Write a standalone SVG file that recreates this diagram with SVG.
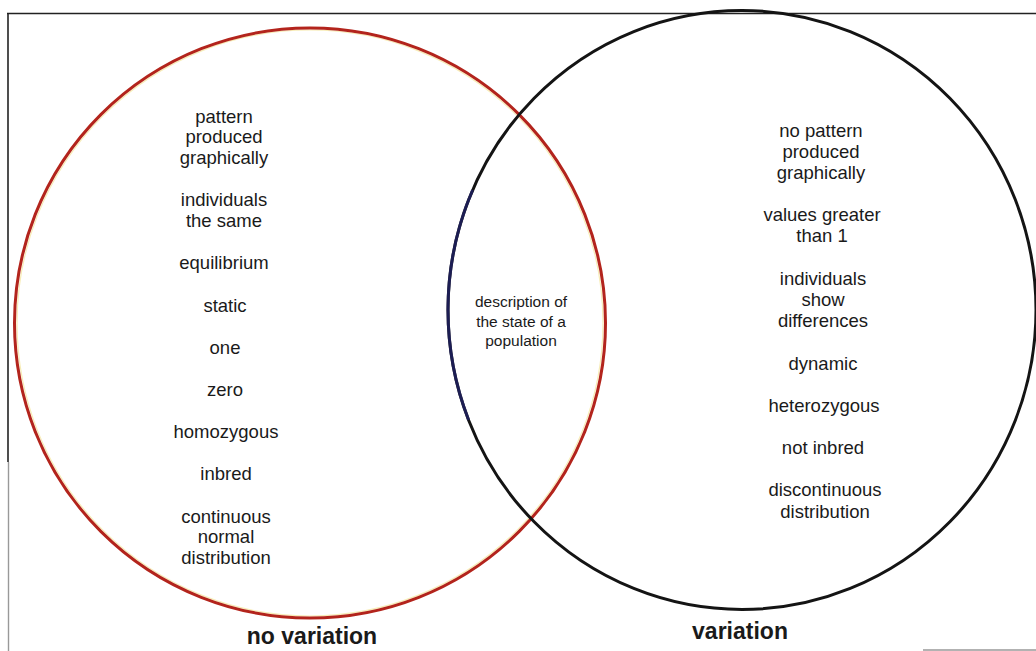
<svg xmlns="http://www.w3.org/2000/svg" width="1036" height="651" viewBox="0 0 1036 651">
  <style>
    .frame { fill: none; stroke: #222; stroke-width: 1.6; }
    .frame-faint { fill: none; stroke: #999; stroke-width: 1.4; }
    .ring { fill: none; stroke-width: 3; }
    .red { stroke: #b3241c; }
    .dark { stroke: #141414; }
    .item { font-family: "Liberation Sans", Arial, sans-serif; font-size: 18.5px; fill: #1a1a1a; text-anchor: middle; }
    .mid { font-family: "Liberation Sans", Arial, sans-serif; font-size: 15.5px; fill: #1a1a1a; text-anchor: middle; }
    .title { font-family: "Liberation Sans", Arial, sans-serif; font-size: 23px; font-weight: bold; fill: #1a1a1a; text-anchor: middle; }
  </style>

  <rect x="0" y="0" width="1036" height="651" fill="#ffffff"/>

  <!-- outer frame (top and left edges only) -->
  <g id="frame">
    <path class="frame" d="M7,13.5 H1036"/>
    <path class="frame" d="M8,13.5 V462"/>
    <path class="frame-faint" d="M8.5,462 V651"/>
    <path class="frame-faint" d="M923,650 H1036"/>
  </g>

  <!-- set: no variation -->
  <g id="set-no-variation">
    <ellipse cx="310" cy="323" rx="293" ry="293" fill="none" stroke="#f1df86" stroke-width="1.2" opacity="0.6"/>
    <ellipse class="ring red" cx="310" cy="323" rx="295.5" ry="295"/>
    <g class="item">
      <text x="224" y="123">pattern</text>
      <text x="224" y="143">produced</text>
      <text x="224" y="164">graphically</text>
      <text x="224" y="206">individuals</text>
      <text x="224" y="227">the same</text>
      <text x="224" y="269">equilibrium</text>
      <text x="225" y="312">static</text>
      <text x="225" y="354">one</text>
      <text x="225" y="396">zero</text>
      <text x="226" y="438">homozygous</text>
      <text x="226" y="480">inbred</text>
      <text x="226" y="523">continuous</text>
      <text x="226" y="543">normal</text>
      <text x="226" y="564">distribution</text>
    </g>
    <text class="title" x="312" y="644">no variation</text>
  </g>

  <!-- set: variation -->
  <g id="set-variation">
    <ellipse class="ring dark" cx="742" cy="310" rx="294" ry="299.5"/>
    <!-- navy tint along the left arc of the dark ring -->
    <path d="M472.6,190 A294,299.5 0 0 0 468.6,420" fill="none" stroke="#1d1f5e" stroke-width="3" opacity="0.85"/>
    <g class="item">
      <text x="821" y="137">no pattern</text>
      <text x="821" y="158">produced</text>
      <text x="821" y="179">graphically</text>
      <text x="822" y="221">values greater</text>
      <text x="822" y="242">than 1</text>
      <text x="823" y="285">individuals</text>
      <text x="823" y="306">show</text>
      <text x="823" y="327">differences</text>
      <text x="823" y="370">dynamic</text>
      <text x="824" y="412">heterozygous</text>
      <text x="823" y="454">not inbred</text>
      <text x="825" y="496">discontinuous</text>
      <text x="825" y="518">distribution</text>
    </g>
    <text class="title" x="740" y="639">variation</text>
  </g>

  <!-- shared region -->
  <g id="set-overlap">
    <g class="mid">
      <text x="521" y="307">description of</text>
      <text x="521" y="327">the state of a</text>
      <text x="521" y="346">population</text>
    </g>
  </g>

  <g id="connectors"/>
</svg>
